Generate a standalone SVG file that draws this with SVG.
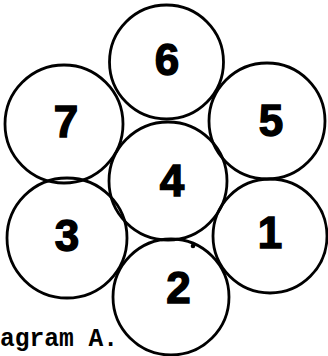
<svg xmlns="http://www.w3.org/2000/svg" width="328" height="356" viewBox="0 0 328 356">
<style>
.c{fill:none;stroke:#000;stroke-width:2.8}
.n{font-family:"Liberation Sans",Arial,sans-serif;font-weight:bold;font-size:44px;text-anchor:middle;fill:#000;stroke:#000;stroke-width:1.4}
.cap{font-family:"Liberation Mono","Courier New",monospace;font-weight:bold;font-size:25px;fill:#000}
</style>
<rect width="328" height="356" fill="#fff"/>
<g id="node6"><circle class="c" cx="166.5" cy="62" r="57"/><text class="n" x="167" y="75">6</text></g>
<g id="node7"><circle class="c" cx="64" cy="124" r="59"/><text class="n" x="66" y="137">7</text></g>
<g id="node5"><circle class="c" cx="267" cy="121" r="58"/><text class="n" x="271" y="136">5</text></g>
<g id="node4"><circle class="c" cx="168" cy="181" r="59"/><text class="n" x="172" y="196">4</text></g>
<g id="node3"><circle class="c" cx="67" cy="238" r="60"/><text class="n" x="67" y="251">3</text></g>
<g id="node1"><circle class="c" cx="270" cy="236" r="57"/><text class="n" x="270" y="248">1</text></g>
<g id="node2"><circle class="c" cx="171" cy="297" r="58"/><text class="n" x="178.5" y="303">2</text></g>
<g id="connectors"></g>
<circle cx="193" cy="246" r="2.3" fill="#000"/>
<text class="cap" x="0" y="346" textLength="118" lengthAdjust="spacingAndGlyphs">agram A.</text>
</svg>
